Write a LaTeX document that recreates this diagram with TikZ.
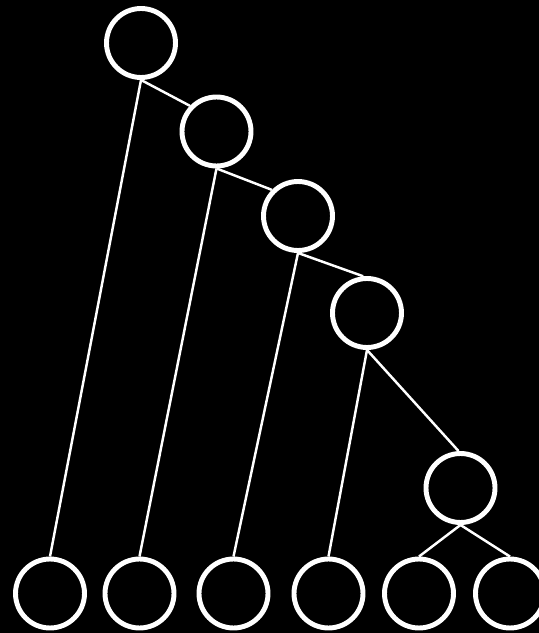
\documentclass[tikz,border=0pt]{standalone}
\usepackage{xcolor}
\usepackage{tikz}
\usetikzlibrary{arrows.meta, positioning}
\def\nodeSize{1.38}
\def\leafY{0.79}
\begin{document}
\begin{tikzpicture}[
    line width=1.4pt,
    white,
    every node/.style={circle, draw=white, line width=2.8pt, minimum size=\nodeSize cm, inner sep=0pt}
]
% background and fixed size
\fill[black] (0,0) rectangle (10.78,12.66);
\useasboundingbox (0,0) rectangle (10.78,12.66);

% inner nodes
\node (1) at (2.82,11.80) {};
\node (2) at (4.33,10.03) {};
\node (3) at (5.96,8.34) {};
\node (4) at (7.34,6.40) {};
\node (5) at (9.21,2.90) {};

% leaves
\node (l1) at (1.00,\leafY) {};
\node (l2) at (2.79,\leafY) {};
\node (l3) at (4.67,\leafY) {};
\node (l4) at (6.57,\leafY) {};
\node (l5) at (8.38,\leafY) {};
\node (l6) at (10.20,\leafY) {};

% spine
\draw (1.south) -- (2.136);
\draw (2.south) -- (3.135);
\draw (3.south) -- (4.96);
\draw (4.south) -- (5.93);

% to the leaves
\draw (1.south) -- (l1.north);
\draw (2.south) -- (l2.north);
\draw (3.south) -- (l3.north);
\draw (4.south) -- (l4.north);
\draw (5.south) -- (l5.north);
\draw (5.south) -- (l6.north);
\end{tikzpicture}
\end{document}
